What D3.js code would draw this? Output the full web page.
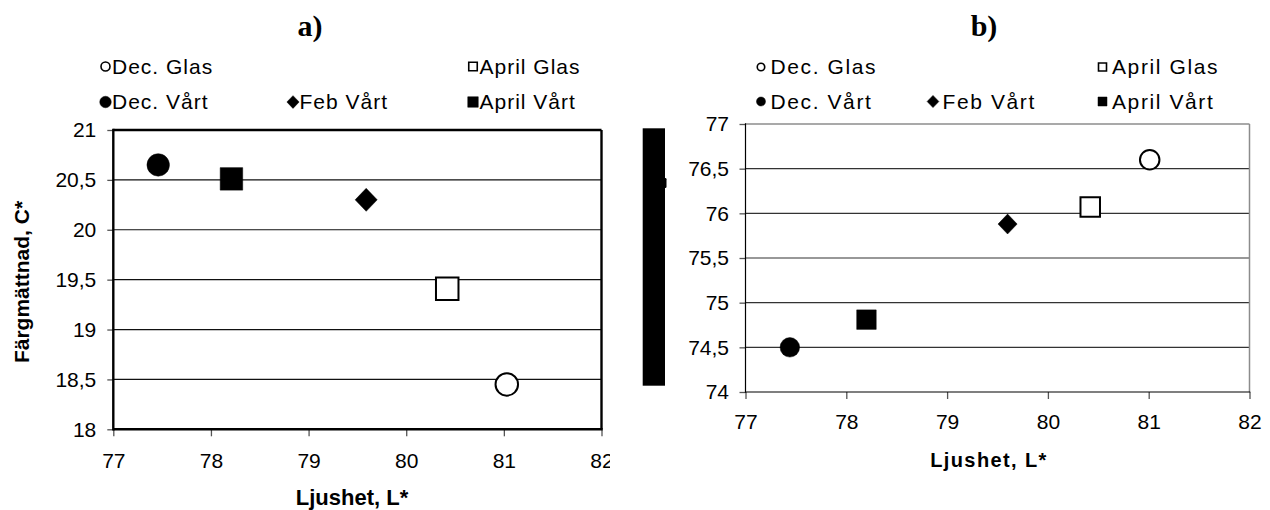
<!DOCTYPE html>
<html>
<head>
<meta charset="utf-8">
<script src="https://cdn.jsdelivr.net/npm/d3@7"></script>
<style>
  html, body { margin: 0; padding: 0; background: #fff; }
  svg { display: block; }
  text { font-family: "Liberation Sans", Arial, sans-serif; fill: #000; }
</style>
</head>
<body>
<svg id="chart" width="1270" height="510"></svg>
<script>
// Sample series (legend order) and their marker styles
const seriesNames = ["Dec. Glas", "April Glas", "Dec. Vårt", "Feb Vårt", "April Vårt"];
const seriesSymbols = ["circle", "square", "circle", "diamond", "square"];
const seriesFilled = [false, false, true, true, true];

// Panel a: lightness L* vs chroma C*
const ljushetA = [81.03, 80.42, 77.46, 79.59, 78.21];
const chromaA = [18.45, 19.41, 20.65, 20.30, 20.51];

// Panel b: lightness L* vs second colour coordinate
const ljushetB = [81.01, 80.42, 77.44, 79.60, 78.20];
const valueB = [76.60, 76.07, 74.50, 75.88, 74.81];

// Axis ticks
const xTicks = [77, 78, 79, 80, 81, 82];
const yTicksA = [18, 18.5, 19, 19.5, 20, 20.5, 21];
const yTicksB = [74, 74.5, 75, 75.5, 76, 76.5, 77];

// Legend layout: rows of [series index, column]
const legendRows = [[0, 0], [1, 2], [2, 0], [3, 1], [4, 2]];

const svg = d3.select("#chart");
const fmt = d => String(d).replace(".", ",");

function symbolPath(type, w, h) {
  const hw = w / 2, hh = h / 2;
  if (type === "circle") {
    return `M${-hw},0A${hw},${hh} 0 1,0 ${hw},0A${hw},${hh} 0 1,0 ${-hw},0Z`;
  }
  if (type === "square") {
    return `M${-hw},${-hh}H${hw}V${hh}H${-hw}Z`;
  }
  return `M0,${-hh}L${hw},0L0,${hh}L${-hw},0Z`;
}

function drawMarker(g, i, x, y, size, strokeW) {
  const type = seriesSymbols[i];
  let w = size, h = size;
  if (type === "diamond") { w = size * 0.98; h = size * 1.02; }
  g.append("path")
    .attr("transform", `translate(${x},${y})`)
    .attr("d", symbolPath(type, w, h))
    .attr("fill", seriesFilled[i] ? "#000" : "#fff")
    .attr("stroke", "#000")
    .attr("stroke-width", seriesFilled[i] ? 0.5 : strokeW);
}

function panel(cfg) {
  const g = svg.append("g");
  if (cfg.clip) {
    svg.append("clipPath").attr("id", cfg.id + "-clip")
      .append("rect").attr("x", 0).attr("y", 0).attr("width", cfg.clip).attr("height", 510);
    g.attr("clip-path", `url(#${cfg.id}-clip)`);
  }
  const x = d3.scaleLinear().domain([77, 82]).range(cfg.xRange);
  const y = d3.scaleLinear().domain(cfg.yDomain).range(cfg.yRange);

  // title
  g.append("text")
    .attr("x", cfg.titleX).attr("y", 36)
    .attr("text-anchor", "middle")
    .style("font-family", "'Liberation Serif', 'Times New Roman', serif")
    .style("font-weight", "bold")
    .style("font-size", "30px")
    .text(cfg.title);

  // legend
  legendRows.forEach(([i, col]) => {
    const row = (i === 0 || i === 1) ? 0 : 1;
    const cy = cfg.legendY[row];
    const mx = cfg.legendCols[col];
    const ms = cfg.legendMarker[seriesSymbols[i] + (seriesFilled[i] ? "F" : "O")];
    drawMarker(g, i, mx, cy, ms, 1.6);
    g.append("text")
      .attr("x", mx + cfg.legendGap).attr("y", cy)
      .attr("dy", "0.35em")
      .style("font-size", "21px")
      .style("letter-spacing", cfg.legendSpacing + "px")
      .text(seriesNames[i]);
  });

  // gridlines
  g.append("g").selectAll("line")
    .data(cfg.yTicks.slice(1, -1))
    .join("line")
    .attr("x1", cfg.xRange[0]).attr("x2", cfg.xRange[1])
    .attr("y1", d => y(d)).attr("y2", d => y(d))
    .attr("stroke", cfg.gridColor).attr("stroke-width", 1.2);

  // axes
  const yAxis = g.append("g")
    .attr("transform", `translate(${cfg.xRange[0]},0)`)
    .call(d3.axisLeft(y).tickValues(cfg.yTicks).tickFormat(fmt).tickSize(6).tickPadding(cfg.yPad));
  const xAxis = g.append("g")
    .attr("transform", `translate(0,${cfg.yRange[0]})`)
    .call(d3.axisBottom(x).tickValues(xTicks).tickFormat(d3.format("d")).tickSize(7).tickPadding(cfg.xPad));
  [yAxis, xAxis].forEach(a => {
    a.select(".domain").remove();
    a.selectAll(".tick line").attr("stroke", "#555").attr("stroke-width", 1.3);
    a.selectAll(".tick text")
      .style("font-family", "'Liberation Sans', Arial, sans-serif")
      .style("font-size", "21px").attr("fill", "#000");
  });

  // plot frame
  const [x0, x1] = cfg.xRange, [yb, yt] = cfg.yRange;
  g.append("line").attr("x1", x0).attr("x2", x1).attr("y1", yt).attr("y2", yt)
    .attr("stroke", cfg.frameTop).attr("stroke-width", cfg.frameW);
  g.append("line").attr("x1", x1).attr("x2", x1).attr("y1", yt).attr("y2", yb)
    .attr("stroke", cfg.frameTop).attr("stroke-width", cfg.frameW);
  g.append("line").attr("x1", x0).attr("x2", x0).attr("y1", yt - cfg.frameW / 2).attr("y2", yb + cfg.frameW / 2)
    .attr("stroke", "#000").attr("stroke-width", cfg.axisW);
  g.append("line").attr("x1", x0).attr("x2", x1 + cfg.frameW / 2).attr("y1", yb).attr("y2", yb)
    .attr("stroke", "#000").attr("stroke-width", cfg.axisW);

  // data markers
  cfg.xs.forEach((xv, i) => {
    drawMarker(g, i, x(xv), y(cfg.ys[i]), cfg.markerSize, 2);
  });

  // axis titles
  g.append("text")
    .attr("x", cfg.xTitle[0]).attr("y", cfg.xTitle[1])
    .attr("text-anchor", "middle")
    .style("font-weight", "bold")
    .style("font-size", cfg.xTitleSize + "px")
    .style("letter-spacing", cfg.xTitleSpacing + "px")
    .text("Ljushet, L*");
  if (cfg.yTitle) {
    g.append("text")
      .attr("transform", `translate(${cfg.yTitle[0]},${cfg.yTitle[1]}) rotate(-90)`)
      .attr("text-anchor", "middle")
      .style("font-weight", "bold")
      .style("font-size", "21px")
      .text(cfg.yTitleText);
  }
  return g;
}

panel({
  id: "a", title: "a)", titleX: 310, clip: 610,
  xRange: [113.3, 601.5], yRange: [429.3, 130], yDomain: [18, 21],
  yTicks: yTicksA, xs: ljushetA, ys: chromaA,
  yPad: 11, xPad: 16.5,
  gridColor: "#111", frameTop: "#000", frameW: 2.4, axisW: 2.4,
  markerSize: 22.5,
  legendY: [66.5, 102], legendCols: [105.5, 293, 473], legendGap: 6.5, legendSpacing: 1,
  legendMarker: { circleO: 9, squareO: 8.5, circleF: 11.5, diamondF: 12.5, squareF: 10.5 },
  xTitle: [352, 504.5], xTitleSize: 22, xTitleSpacing: 0,
  yTitle: [28.5, 282], yTitleText: "Färgmättnad, C*"
});

const gb = panel({
  id: "b", title: "b)", titleX: 984,
  xRange: [745.5, 1249.5], yRange: [392, 124], yDomain: [74, 77],
  yTicks: yTicksB, xs: ljushetB, ys: valueB,
  yPad: 10.5, xPad: 15.5,
  gridColor: "#333", frameTop: "#8c8c8c", frameW: 1.5, axisW: 1.2,
  markerSize: 19.5,
  legendY: [67, 101.5], legendCols: [761, 933, 1102.5], legendGap: 9.5, legendSpacing: 1.6,
  legendMarker: { circleO: 7.5, squareO: 8, circleF: 9, diamondF: 12, squareF: 9 },
  xTitle: [989, 466.5], xTitleSize: 20, xTitleSpacing: 1.4
});

// vertical axis title of panel b, printed as a solid block
gb.append("rect")
  .attr("x", 642.7).attr("y", 128.3).attr("width", 22.3).attr("height", 257.4)
  .attr("fill", "#000");
gb.append("rect")
  .attr("x", 664).attr("y", 178).attr("width", 2.5).attr("height", 10).attr("rx", 1.2)
  .attr("fill", "#000");
</script>
</body>
</html>
